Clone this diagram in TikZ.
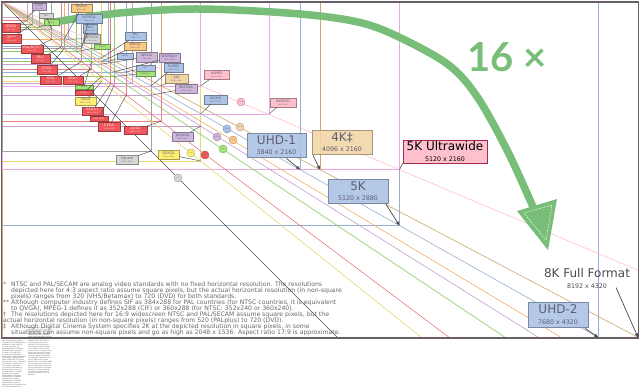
\documentclass[tikz,border=0pt]{standalone}
\usepackage{fontspec}
\setmainfont{DejaVu Sans}
\newfontfamily\latofont{Lato}
\usetikzlibrary{arrows.meta}
\definecolor{lred}{RGB}{232,125,125}
\definecolor{fred}{RGB}{238,88,92}
\definecolor{lblue}{RGB}{150,175,212}
\definecolor{fblue}{RGB}{172,196,230}
\definecolor{lpurp}{RGB}{196,160,208}
\definecolor{fpurp}{RGB}{206,182,218}
\definecolor{lorange}{RGB}{240,176,104}
\definecolor{forange}{RGB}{250,202,135}
\definecolor{lyellow}{RGB}{232,216,110}
\definecolor{fyellow}{RGB}{255,240,115}
\definecolor{lgreen}{RGB}{140,205,100}
\definecolor{fgreen}{RGB}{165,228,120}
\definecolor{ltan}{RGB}{205,166,110}
\definecolor{ftan}{RGB}{242,214,168}
\definecolor{lpink}{RGB}{236,168,226}
\definecolor{fpink}{RGB}{255,192,206}
\definecolor{lgrey}{RGB}{160,160,160}
\definecolor{fgrey}{RGB}{214,214,214}
\definecolor{dgrey}{RGB}{80,80,80}
\definecolor{agreen}{RGB}{120,190,120}
\definecolor{framec}{RGB}{105,95,105}
\definecolor{notegrey}{RGB}{105,105,105}
\definecolor{maroonc}{RGB}{165,40,80}
\definecolor{labtext}{RGB}{95,95,115}
\newcommand\lt[2]{#1\\[-0.9pt]{\fontsize{1.7}{2}\selectfont #2}}
\newcommand\bt[2]{{\fontsize{12}{12}\selectfont #1}\\[-1.5pt]{\fontsize{6.3}{7}\selectfont #2}}
\newcommand\SL[8]{\node[#2, minimum width=#5pt, minimum height=#6pt] (#1) at (#3,#4) {\lt{#7}{#8}};}
\newcommand\TL[7]{\node[#2, minimum width=#5pt, minimum height=#6pt, font=\fontsize{2}{2}\selectfont] (#1) at (#3,#4) {#7};}
\newcommand\CR[3]{\coordinate (#1) at ({2+#2/12.88},{2+#3/12.88});}
\tikzset{
  box/.style={rectangle, draw=#1!65!black, fill=#1, line width=0.35pt, inner sep=0pt, align=center, text=labtext, font=\fontsize{3.5}{3.8}\selectfont},
  rb/.style={box=fred, text=white!88!red},
  bb/.style={box=fblue}, pb/.style={box=fpurp}, ob/.style={box=forange},
  yb/.style={box=fyellow}, gb/.style={box=fgreen}, tb/.style={box=ftan},
  kb/.style={box=fpink}, eb/.style={box=fgrey},
  leader/.style={draw=dgrey, line width=0.45pt},
  bigbox/.style={rectangle, draw=#1!70!black, fill=#1, fill opacity=0.9, text opacity=1, line width=0.6pt, inner sep=0pt, align=center, text=labtext},
  bigarrow/.style={draw=dgrey!90!black, line width=0.7pt, -{Triangle[length=4pt,width=3pt]}},
  ratio/.style={circle, draw=#1!70!black, fill=#1, line width=0.35pt, inner sep=0pt, minimum size=8pt, font=\fontsize{1.8}{2}\selectfont, text=labtext},
  note/.style={anchor=base west, inner sep=0pt, text=notegrey, font=\fontsize{6.15}{6.5}\selectfont},
  legend/.style={anchor=north west, inner sep=0pt, text width=24pt, text=dgrey, font=\fontsize{1.5}{1.9}\selectfont},
}
\begin{document}
\begin{tikzpicture}[x=1pt,y=-1pt]
\useasboundingbox (0,0) rectangle (640,391);
\fill[white] (0,0) rectangle (640,391);
% standard rectangles
\foreach \w/\h/\c in {
  320/240/lred,640/480/lred,768/576/lred,800/600/lred,1024/768/lred,1152/864/lred,1280/960/lred,1400/1050/lred,1440/1080/lred,1600/1200/lred,2048/1536/lred,
  320/200/lpurp,1280/800/lpurp,1440/900/lpurp,1680/1050/lpurp,1920/1200/lpurp,2560/1600/lpurp,
  1024/576/lblue,854/480/lblue,1280/720/lblue,1366/768/lblue,1600/900/lblue,1920/1080/lblue,2560/1440/lblue,3840/2160/lblue,5120/2880/lblue,7680/4320/lblue,
  800/480/lorange,1280/768/lorange,
  1280/1024/lyellow,2560/2048/lyellow,
  480/320/lgreen,960/640/lgreen,1152/768/lgreen,1440/960/lgreen,
  2048/1080/ltan,4096/2160/ltan,8192/4320/ltan,
  2560/1080/lpink,3440/1440/lpink,5120/2160/lpink,
  640/350/lgrey,384/288/lgrey,1024/600/lgrey,1920/1920/lgrey}
  \draw[draw=\c, line width=0.6pt] (2,2) rectangle ({2+\w/12.88},{2+\h/12.88});
% aspect ratio diagonals
\coordinate (O) at (2,2);
\foreach \r/\c in {1/dgrey,1.25/lyellow,1.3333/lred,1.5/lgreen,1.6/lpurp,1.6667/lorange,1.7778/lblue,1.8963/ltan,2.3704/fpink}{
  \pgfmathsetmacro\xe{min(2+336*\r,638)}
  \pgfmathsetmacro\ye{2+(\xe-2)/\r}
  \coordinate (E) at (\xe,\ye);
  \draw[draw=\c, line width=0.6pt] (O) -- (E);
}
% corners
\CR{cCGA}{320}{200}\CR{cEGA}{640}{350}\CR{cHVGA}{480}{320}\CR{cWVGA}{800}{480}
\CR{cWSVGA}{1024}{600}\CR{cQVGA}{320}{240}\CR{cSIF}{384}{288}\CR{cVGA}{640}{480}
\CR{cPAL}{768}{576}\CR{cSVGA}{800}{600}\CR{cXGA}{1024}{768}\CR{cXGAp}{1152}{864}
\CR{cPALw}{1024}{576}\CR{cFWVGA}{854}{480}\CR{cDVGA}{960}{640}\CR{cHD}{1280}{720}
\CR{cWXGAo}{1280}{768}\CR{cWXGAb}{1366}{768}\CR{cWXGAp}{1280}{800}\CR{cWXGApl}{1440}{900}
\CR{cHDp}{1600}{900}\CR{cFWXGAp}{1440}{960}\CR{cFHD}{1920}{1080}\CR{cTwoK}{2048}{1080}
\CR{cWUXGA}{1920}{1200}\CR{cWXGAg}{1152}{768}\CR{cSXGAm}{1280}{960}\CR{cSXGA}{1280}{1024}
\CR{cSXGAp}{1400}{1050}\CR{cHDV}{1440}{1080}\CR{cUXGA}{1600}{1200}\CR{cQXGA}{2048}{1536}
\CR{cWQXGA}{2560}{1600}\CR{cQSXGA}{2560}{2048}\CR{cSQ}{1920}{1920}\CR{cUWHD}{2560}{1080}
\CR{cWQHD}{2560}{1440}\CR{cUWQHD}{3440}{1440}
\CR{cUHDa}{3840}{2160}\CR{cFourK}{4096}{2160}\CR{cFiveKU}{5120}{2160}\CR{cFiveK}{5120}{2880}
\CR{cUHDb}{7680}{4320}\CR{cEightK}{8192}{4320}
% green 16x arrow
\draw[agreen, line width=7.5pt] plot[smooth, tension=0.55] coordinates {(54,22) (120,13) (200,9) (300,14) (362,23) (405,40) (450,66) (478,98) (507,150) (530,200) (535,212)};
\fill[agreen] (517,211) -- (557,199) -- (548,250) -- cycle;
\draw[white, line width=0.4pt, dash pattern=on 2pt off 1pt] (524,213) -- (552,205) -- (546,240) -- cycle;
\node[text=agreen, font=\latofont\bfseries\fontsize{40}{40}\selectfont, inner sep=0pt] (sixteen) at (507,57) {16 ×};
% frame
\draw[framec, line width=1.1pt] (1.5,2) rectangle (638.5,338);
% small labels
\SL{CGA}{pb}{39}{6.5}{14}{7}{CGA}{320 x 200}
\TL{EGA}{eb}{46}{15.5}{14}{5}{EGA}
\TL{HVGA}{gb}{51.5}{22.5}{15}{6}{HVGA}
\SL{WVGA}{ob}{81.5}{8}{21}{8}{WVGA}{800 x 480}
\SL{WSVGA}{bb}{89}{18.5}{26}{9}{WSVGA}{1024 x 576}
\SL{QVGA}{rb}{11}{27.5}{18}{9}{QVGA}{320 x 240}
\SL{SIF}{rb}{11.5}{38.5}{19}{9}{SIF**}{384 x 288}
\SL{VGA}{rb}{32}{49}{22}{8}{VGA/NTSC*}{640 x 480}
\SL{PAL}{rb}{40.5}{58.5}{19}{9}{PAL*}{768 x 576}
\SL{SVGA}{rb}{47}{69.5}{20}{9}{SVGA}{800 x 600}
\SL{XGA}{rb}{50.5}{80}{21}{8}{XGA}{1024 x 768}
\SL{XGAp}{rb}{73}{80}{20}{8}{XGA+}{1152 x 864}
\SL{PALw}{bb}{90}{28.5}{14}{9}{PAL†}{1024 x 576}
\SL{FWVGA}{eb}{92}{38.5}{16}{9}{WSVGA}{1024 x 600}
\TL{DVGA}{gb}{102}{46.5}{16}{5}{DVGA}
\SL{HD}{bb}{135.5}{36}{21}{8}{HD}{1280 x 720}
\SL{WXGAo}{ob}{135}{46}{22}{8}{WXGA}{1280 x 768}
\TL{WXGAb}{bb}{125}{56}{16}{6}{WXGA}
\SL{WXGAp}{pb}{146.5}{57}{21}{10}{WXGA}{1280 x 800}
\SL{WXGApl}{pb}{169.5}{57.5}{21}{9}{WSXGA+}{1680 x 1050}
\TL{HDp}{bb}{145.5}{68}{19}{6}{HD+}
\TL{FWXGAp}{gb}{145.5}{73.5}{19}{5}{FWXGA+}
\SL{FHD}{bb}{173.5}{67.5}{19}{9}{FullHD}{1920 x 1080}
\SL{TwoK}{tb}{176.5}{78.5}{23}{9}{2K‡}{2048 x 1080}
\SL{WUXGA}{pb}{186}{88.5}{22}{9}{WUXGA}{1920 x 1200}
\TL{WXGAg}{gb}{84}{87}{18}{4.5}{WXGA}
\TL{SXGAm}{rb}{84}{92.5}{18}{5}{SXGA−}
\SL{SXGA}{yb}{85.5}{101}{21}{8}{SXGA}{1280 x 1024}
\SL{SXGAp}{rb}{92.5}{111}{21}{8}{SXGA+}{1400 x 1050}
\TL{HDV}{rb}{99}{118.5}{18}{5}{HDV 1080}
\SL{UXGA}{rb}{109}{126.5}{22}{9}{UXGA}{1600 x 1200}
\SL{QXGA}{rb}{135.5}{130}{23}{8}{QXGA}{2048 x 1536}
\SL{WQXGA}{pb}{182.5}{136.5}{21}{9}{WQXGA}{2560 x 1600}
\SL{QSXGA}{yb}{168.5}{154.5}{21}{9}{QSXGA}{2560 x 2048}
\SL{SQ}{eb}{127}{159.5}{22}{9}{Square}{1920 x 1920}
\SL{UWHD}{kb}{216.5}{74.5}{25}{9}{UWHD}{2560 x 1080}
\SL{WQHD}{bb}{215.5}{99.5}{23}{9}{WQHD}{2560 x 1440}
\SL{UWQHD}{kb}{283}{102.5}{26}{9}{UWQHD}{3440 x 1440}
% leaders
\foreach \n in {CGA,EGA,HVGA,WVGA,WSVGA,QVGA,SIF,VGA,PAL,SVGA,XGA,XGAp,PALw,FWVGA,DVGA,HD,WXGAo,WXGAb,WXGAp,WXGApl,HDp,FWXGAp,FHD,TwoK,WUXGA,WXGAg,SXGAm,SXGA,SXGAp,HDV,UXGA,QXGA,WQXGA,QSXGA,SQ,UWHD,WQHD,UWQHD}
  \draw[leader] (\n) -- (c\n);
% ratio circles
\node[ratio=fpink] (r219) at (241,102) {21:9};
\node[ratio=fpurp] (r1610) at (217,137) {16:10};
\node[ratio=fblue] (r169) at (227,129) {16:9};
\node[ratio=ftan] (r179) at (240,127) {17:9};
\node[ratio=forange] (r53) at (233,140) {5:3};
\node[ratio=fgreen] (r32) at (223,149) {3:2};
\node[ratio=fred] (r43) at (205,155) {4:3};
\node[ratio=fyellow] (r54) at (191,153) {5:4};
\node[ratio=fgrey] (r11) at (178,178) {1:1};
% big labels
\node[bigbox=fblue, minimum width=59pt, minimum height=24pt] (UHDa) at (276.5,145) {\bt{UHD-1}{3840 x 2160}};
\node[bigbox=ftan, minimum width=60pt, minimum height=24pt] (FourK) at (342,142) {\bt{4K‡}{4096 x 2160}};
\node[bigbox=fblue, minimum width=60pt, minimum height=24pt] (FiveK) at (358,191) {\bt{5K}{5120 x 2880}};
\node[rectangle, draw=maroonc, fill=fpink, line width=0.9pt, inner sep=0pt, align=center, text=black, minimum width=84pt, minimum height=23pt] (FiveKU) at (445,151.5) {\bt{5K Ultrawide}{5120 x 2160}};
\node[bigbox=fblue, minimum width=60pt, minimum height=25pt] (UHDb) at (558,314.5) {\bt{UHD-2}{7680 x 4320}};
\node[align=center, inner sep=0pt, text=black!70] (EightK) at (587,278.5) {\bt{8K Full Format}{8192 x 4320}};
\draw[bigarrow] ([xshift=10pt,yshift=-1pt]UHDa.south) -- (cUHDa);
\draw[bigarrow] ([xshift=-29pt,yshift=-1pt]FourK.south) -- (cFourK);
\draw[leader, line width=0.6pt] (FiveKU.south west) -- (cFiveKU);
\draw[bigarrow] ([xshift=28pt,yshift=-1pt]FiveK.south) -- (cFiveK);
\draw[bigarrow] ([xshift=27pt,yshift=-1pt]UHDb.south) -- (cUHDb);
\draw[bigarrow] ([xshift=29pt,yshift=1pt]EightK.south) -- (cEightK);
% footnotes
\node[note] (m1) at (3,286.5) {*};
\node[note] (n1) at (11,286.5) {NTSC and PAL/SECAM are analog video standards with no fixed horizontal resolution. The resolutions};
\node[note] (n2) at (11,292.4) {depicted here for 4:3 aspect ratio assume square pixels, but the actual horizontal resolution (in non-square};
\node[note] (n3) at (11,298.4) {pixels) ranges from 320 (VHS/Betamax) to 720 (DVD) for both standards.};
\node[note] (m4) at (3,304.3) {**};
\node[note] (n4) at (11,304.3) {Although computer industry defines SIF as 384x288 for PAL countries (for NTSC countries, it is equivalent};
\node[note] (n5) at (11,310.3) {to QVGA), MPEG-1 defines it as 352x288 (CIF) or 360x288 (for NTSC: 352x240 or 360x240).};
\node[note] (m6) at (3,316.2) {†};
\node[note] (n6) at (11,316.2) {The resolutions depicted here for 16:9 widescreen NTSC and PAL/SECAM assume square pixels, but the};
\node[note] (n7) at (3,322.1) {actual horizontal resolution (in non-square pixels) ranges from 520 (PALplus) to 720 (DVD).};
\node[note] (m8) at (3,328.1) {‡};
\node[note] (n8) at (11,328.1) {Although Digital Cinema System specifies 2K at the depicted resolution in square pixels, in some};
\node[note] (n9) at (11,334) {situations can assume non-square pixels and go as high as 2048 x 1536. Aspect ratio 17:9 is approximate.};
% tiny legend
\node[legend] (leg1) at (2,340.5) {
CGA 320x200 16:10 QVGA 320x240 4:3 SIF 384x288 VGA 640x480 4:3 PAL 768x576 4:3 SVGA 800x600 4:3 WVGA 800x480 5:3 WSVGA 1024x600 XGA 1024x768 4:3 XGA+ 1152x864 4:3 HD 1280x720 16:9 WXGA 1280x768 5:3 WXGA 1280x800 16:10 WXGA 1366x768 16:9 SXGA 1280x1024 5:4 SXGA+ 1400x1050 4:3 HD+ 1600x900 16:9 WSXGA+ 1680x1050 16:10 UXGA 1600x1200 4:3 FullHD 1920x1080 16:9 WUXGA 1920x1200 16:10 2K 2048x1080 17:9 QXGA 2048x1536 4:3 WQHD 2560x1440 16:9 WQXGA 2560x1600 16:10 QSXGA 2560x2048 5:4 UWHD 2560x1080 21:9 UWQHD 3440x1440 21:9 UHD-1 3840x2160 16:9 4K 4096x2160 17:9 5K 5120x2880 16:9};
\node[legend] (leg2) at (28,327) {
Aspect ratios: 1:1 5:4 4:3 3:2 16:10 5:3 16:9 17:9 21:9 CGA QVGA SIF VGA PAL SVGA WVGA WSVGA XGA XGA+ HD WXGA SXGA SXGA+ HD+ WSXGA+ UXGA FullHD WUXGA 2K QXGA WQHD WQXGA QSXGA UWHD UWQHD UHD-1 4K 5K 5K Ultrawide UHD-2 8K Full Format NTSC PAL SECAM DVD VHS Betamax PALplus MPEG-1 CIF Digital Cinema System square pixels non-square pixels widescreen computer industry horizontal resolution vertical resolution UWHD 2560x1080 21:9 UWQHD 3440x1440 21:9 UHD-1 3840x2160 16:9 4K 4096x2160 17:9 5K 5120x2880 16:9 5K Ultrawide 5120x2160 UHD-2 7680x4320 16:9 8K Full Format 8192x4320 17:9 HVGA 480x320 3:2 DVGA 960x640 3:2 FWXGA+ 1440x960 3:2 Square 1920x1920 1:1 EGA 640x350};
\end{tikzpicture}
\end{document}
